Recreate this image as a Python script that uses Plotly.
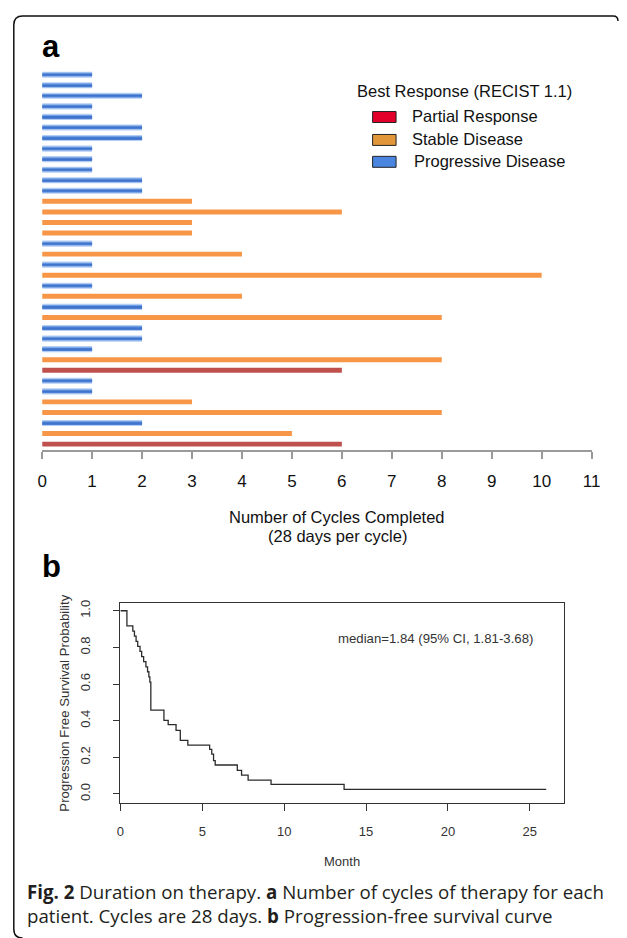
import plotly.graph_objects as go

# ---------------- data ----------------
# Panel a: one bar per patient, listed from top to bottom
cycles = [1, 1, 2, 1, 1, 2, 2, 1, 1, 1, 2, 2,
          3, 6, 3, 3, 1, 4, 1, 10, 1, 4, 2, 8,
          2, 2, 1, 8, 6, 1, 1, 3, 8, 2, 5, 6]
response = ["PD"] * 12 + ["SD", "SD", "SD", "SD", "PD", "SD", "PD", "SD", "PD", "SD", "PD", "SD",
                          "PD", "PD", "PD", "SD", "PR", "PD", "PD", "SD", "SD", "PD", "SD", "PR"]
x_ticks_a = list(range(0, 12))
legend_labels = ["Partial Response", "Stable Disease", "Progressive Disease"]

# Panel b: Kaplan-Meier step curve (month, survival probability)
km_time = [0, 0.40, 0.76, 0.86, 0.96, 1.06, 1.20, 1.30, 1.42, 1.56, 1.66, 1.74, 1.80, 1.86,
           2.66, 2.92, 3.40, 3.66, 4.12, 5.45, 5.58, 5.69, 5.79, 7.14, 7.40, 7.80, 9.20, 13.66, 26.0]
km_surv = [1.0, 0.917, 0.889, 0.861, 0.833, 0.806, 0.778, 0.750, 0.722, 0.694, 0.667, 0.639, 0.611, 0.458,
           0.402, 0.378, 0.347, 0.293, 0.267, 0.243, 0.217, 0.182, 0.158, 0.129, 0.103, 0.076, 0.052, 0.025, 0.025]
x_ticks_b = [0, 5, 10, 15, 20, 25]
y_ticks_b = [0.0, 0.2, 0.4, 0.6, 0.8, 1.0]

# ---------------- layout helpers ----------------
W, H = 627, 938
def fx(x):
    return x / W
def fy(y):
    return 1 - y / H

n = len(cycles)
ypos = [n - 1 - i for i in range(n)]

def subset(code):
    xs = [c for c, r in zip(cycles, response) if r == code]
    ys = [p for p, r in zip(ypos, response) if r == code]
    return xs, ys

fig = go.Figure()

pd_x, pd_y = subset("PD")
sd_x, sd_y = subset("SD")
pr_x, pr_y = subset("PR")

fig.add_trace(go.Bar(x=pd_x, y=pd_y, orientation="h", width=0.58,
                     marker=dict(color="#b3cdf3", line=dict(width=0)), xaxis="x", yaxis="y"))
fig.add_trace(go.Bar(x=pd_x, y=pd_y, orientation="h", width=0.36,
                     marker=dict(color="#6f9fe4", line=dict(width=0)), xaxis="x", yaxis="y"))
fig.add_trace(go.Bar(x=pd_x, y=pd_y, orientation="h", width=0.16,
                     marker=dict(color="#3f73cc", line=dict(width=0)), xaxis="x", yaxis="y"))
fig.add_trace(go.Bar(x=sd_x, y=sd_y, orientation="h", width=0.47,
                     marker=dict(color="#f79646", line=dict(width=0)), xaxis="x", yaxis="y"))
fig.add_trace(go.Bar(x=pr_x, y=pr_y, orientation="h", width=0.47,
                     marker=dict(color="#c0504d", line=dict(width=0)), xaxis="x", yaxis="y"))

fig.add_trace(go.Scatter(x=km_time, y=km_surv, mode="lines",
                         line=dict(shape="hv", color="#2b2b2b", width=1.3),
                         xaxis="x2", yaxis="y2"))

arial = "Liberation Sans, Arial, sans-serif"

fig.update_layout(
    width=W, height=H, margin=dict(l=0, r=0, t=0, b=0),
    paper_bgcolor="white", plot_bgcolor="white", showlegend=False,
    barmode="overlay",
    xaxis=dict(domain=[fx(38), fx(600)], range=[0, 11], anchor="y",
               tickmode="array", tickvals=x_ticks_a, ticktext=[str(t) for t in x_ticks_a],
               showline=True, linecolor="#9a9a9a", linewidth=2,
               ticks="outside", ticklen=7, tickwidth=1.5, tickcolor="#9a9a9a",
               showgrid=False, zeroline=False, ticklabelstandoff=8,
               tickfont=dict(family=arial, size=17, color="#111")),
    yaxis=dict(domain=[fy(448), fy(65)], range=[-0.566, 35.566], visible=False),
    xaxis2=dict(domain=[fx(118), fx(572)], range=[0, 27.1], anchor="y2",
                tickmode="array", tickvals=x_ticks_b, ticktext=[str(t) for t in x_ticks_b],
                showline=True, mirror=True, linecolor="#333", linewidth=1.3,
                ticks="outside", ticklen=7, tickwidth=1.2, tickcolor="#333",
                showgrid=False, zeroline=False, ticklabelstandoff=10,
                tickfont=dict(family=arial, size=13, color="#333")),
    yaxis2=dict(domain=[fy(802), fy(602)], range=[-0.047, 1.040], anchor="x2",
                tickmode="array", tickvals=y_ticks_b, ticktext=["%.1f" % t for t in y_ticks_b],
                tickangle=-90,
                showline=True, mirror=True, linecolor="#333", linewidth=1.3,
                ticks="outside", ticklen=6, tickwidth=1.2, tickcolor="#333",
                showgrid=False, zeroline=False, ticklabelstandoff=18,
                tickfont=dict(family=arial, size=13, color="#333")),
)

ann = []
def text(x, y, s, size, xanchor="left", color="#111", family=arial, angle=0, yanchor="middle"):
    ann.append(dict(x=fx(x), y=fy(y), xref="paper", yref="paper", text=s, showarrow=False,
                    xanchor=xanchor, yanchor=yanchor, textangle=angle,
                    font=dict(family=family, size=size, color=color)))

text(36, 43, "<b>a</b>", 31, color="#000")
text(358, 87, "Best Response (RECIST 1.1)", 16.5)
legend_colors = ["#e2002b", "#e2963a", "#4a86e0"]
legend_y = [113.5, 136.5, 158.5]
legend_tx = [414, 414, 416]
shapes = []
for lab, col, yy, tx in zip(legend_labels, legend_colors, legend_y, legend_tx):
    shapes.append(dict(type="rect", xref="paper", yref="paper",
                       x0=fx(376), x1=fx(400), y0=fy(yy - 5.5), y1=fy(yy + 5.5),
                       fillcolor=col, line=dict(color="#222", width=1)))
    text(tx, yy - 1, lab, 16.5)

text(340, 515, "Number of Cycles Completed", 16.5, xanchor="center")
text(340, 534, "(28 days per cycle)", 16.5, xanchor="center")

text(36, 565, "<b>b</b>", 31, color="#000")
text(440, 637, "median=1.84 (95% CI, 1.81-3.68)", 13.2, xanchor="center", color="#333")
text(60, 702, "Progression Free Survival Probability", 13.2, xanchor="center", color="#333", angle=-90)
text(345, 861, "Month", 13, xanchor="center", color="#333")

cap = "Open Sans, Noto Sans, sans-serif"
text(20, 891, "<b>Fig. 2</b> Duration on therapy. <b>a</b> Number of cycles of therapy for each", 18.7,
     color="#231f20", family=cap)
text(20, 915, "patient. Cycles are 28 days. <b>b</b> Progression-free survival curve", 18.7,
     color="#231f20", family=cap)

# outer rounded frame
def P(x, y):
    return "%.5f,%.5f" % (fx(x), fy(y))
frame = ("M " + P(627, 17) + " Q " + P(627, 12) + " " + P(622, 12) +
         " L " + P(18, 12) + " Q " + P(9, 12) + " " + P(9, 21) +
         " L " + P(9, 929) + " Q " + P(9, 938) + " " + P(18, 938))
shapes.append(dict(type="path", xref="paper", yref="paper", path=frame,
                   line=dict(color="#111", width=1.5)))

fig.update_layout(annotations=ann, shapes=shapes)
fix_page = (
    "document.documentElement.style.margin='0';"
    "document.documentElement.style.overflow='hidden';"
    "document.body.style.margin='0';document.body.style.padding='0';"
    "document.body.style.overflow='hidden';"
    "var g=document.getElementsByClassName('plotly-graph-div')[0];"
    "g.style.position='fixed';g.style.left='0px';g.style.top='0px';"
)
fig.write_html("out.html", config={"displayModeBar": False}, post_script=fix_page)
